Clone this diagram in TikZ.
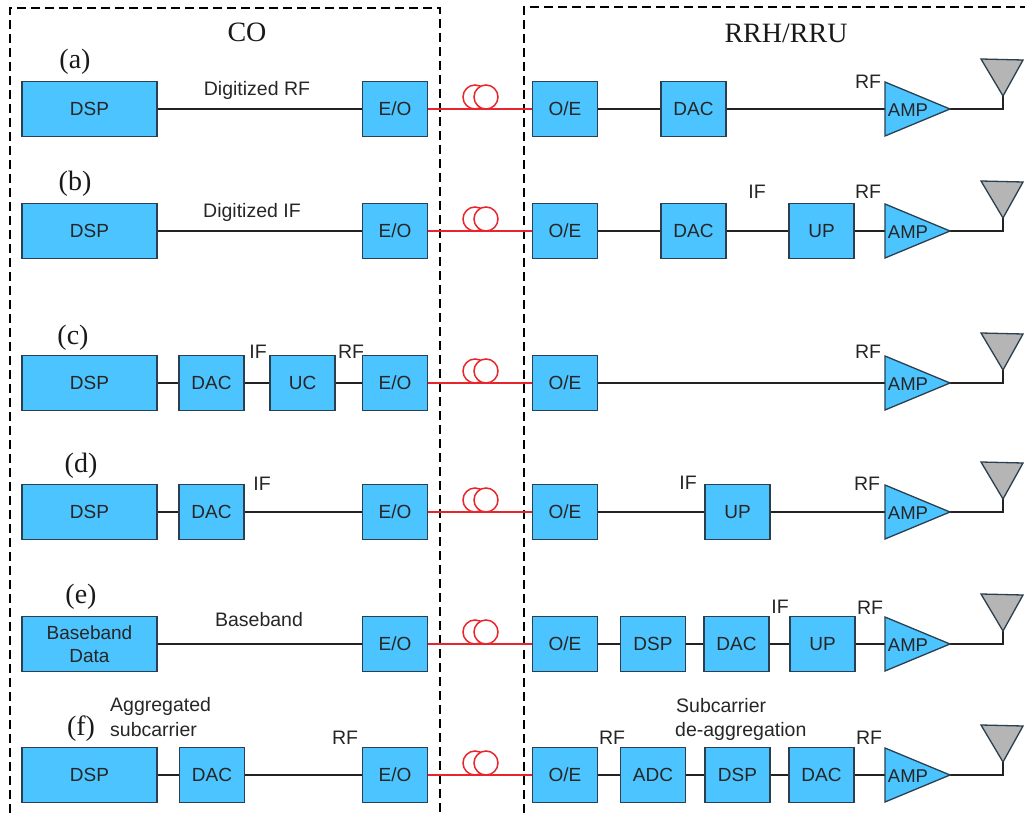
\documentclass[tikz,border=0pt]{standalone}
\usepackage{fontspec}
\setmainfont{Liberation Sans}
\newfontfamily\serifpart{Liberation Serif}
\definecolor{boxblue}{HTML}{4CC4FF}
\definecolor{linedark}{HTML}{222222}
\definecolor{boxedge}{HTML}{2A3F4F}
\definecolor{fibred}{HTML}{E8252B}
\definecolor{antgray}{HTML}{B5B5B5}
\tikzset{
  block/.style={draw=boxedge,fill=boxblue,line width=1.3pt,minimum height=55pt,inner sep=0pt,text=black!85,font=\fontsize{19}{22}\selectfont,align=center},
  wideblock/.style={block,minimum width=135pt},
  smallblock/.style={block,minimum width=65pt},
  wire/.style={draw=linedark,line width=1.6pt},
  fibre/.style={draw=fibred,line width=1.5pt},
  frame/.style={draw=black,line width=1.6pt,dash pattern=on 9pt off 5pt},
  lbl/.style={inner sep=0pt,font=\fontsize{19.5}{22}\selectfont,text=black!85},
  amplbl/.style={inner sep=0pt,font=\fontsize{18.5}{21}\selectfont,text=black!85},
  lettering/.style={inner sep=0pt,font=\fontsize{28}{31}\selectfont\serifpart,text=black!90},
  triangleamp/.style={draw=boxedge,fill=boxblue,line width=1.3pt,line join=miter},
  antenna/.style={draw=boxedge,fill=antgray,line width=1.3pt,line join=miter}
}
% #1 row name, #2 centre y, #3 last box name before the amplifier
\newcommand{\rowparts}[3]{%
  \node[smallblock] (#1eo) at (395,#2) {E/O};
  \node[smallblock] (#1oe) at (565,#2) {O/E};
  \draw[fibre] (#1eo) -- (#1oe);
  \coordinate (#1ca) at (475,#2-12);
  \coordinate (#1cb) at (486,#2-12);
  \draw[fibre] (#1ca) circle[radius=12];
  \draw[fibre,fill=white] (#1cb) circle[radius=12];
  \draw[fibre] (#1eo) -- (#1oe);
  \coordinate (#1ampw) at (885,#2);
  \coordinate (#1ampt) at (885,#2-27);
  \coordinate (#1ampb) at (885,#2+27);
  \coordinate (#1ampe) at (950,#2);
  \coordinate (#1antl) at (981,#2-50);
  \coordinate (#1antr) at (1023,#2-49);
  \coordinate (#1antb) at (1003,#2-13);
  \coordinate (#1antf) at (1003,#2);
  \draw[wire] (#1ampe) -- (#1antf) -- (#1antb);
  \draw[antenna] (#1antl) -- (#1antr) -- (#1antb) -- cycle;
  \draw[wire] (#3) -- (#1ampw);
  \draw[triangleamp] (#1ampt) -- (#1ampe) -- (#1ampb) -- cycle;
  \node[amplbl] (#1amplbl) at (908,#2+1) {AMP};
}
\begin{document}
\begin{tikzpicture}[x=1pt,y=-1pt]
\useasboundingbox (0,0) rectangle (1025,813);
% frames
\coordinate (cobl) at (10,813);
\coordinate (cotl) at (10,8);
\coordinate (cotr) at (440,8);
\coordinate (cobr) at (440,813);
\coordinate (rrbl) at (524,813);
\coordinate (rrtl) at (524,7);
\coordinate (rrtr) at (1025,7);
\draw[frame] (cobl) -- (cotl) -- (cotr) -- (cobr);
\draw[frame] (rrbl) -- (rrtl) -- (rrtr);
\node[lettering] (colbl) at (247,32) {CO};
\node[lettering] (rrlbl) at (786,33) {RRH/RRU};

% row a
\node[wideblock] (adsp) at (89.5,109) {DSP};
\node[smallblock] (adac) at (693.5,109) {DAC};
\rowparts{a}{109}{adac}
\draw[wire] (adsp) -- (aeo);
\draw[wire] (aoe) -- (adac);
\node[lettering] (alet) at (75,62) {(a)};
\node[lbl] (alab) at (257,90) {Digitized RF};
\node[lbl] (arf) at (868,82) {RF};

% row b
\node[wideblock] (bdsp) at (89.5,231) {DSP};
\node[smallblock] (bdac) at (693.5,231) {DAC};
\node[smallblock] (bup) at (821.5,231) {UP};
\rowparts{b}{231}{bup}
\draw[wire] (bdsp) -- (beo);
\draw[wire] (boe) -- (bdac);
\draw[wire] (bdac) -- (bup);
\node[lettering] (blet) at (75,184) {(b)};
\node[lbl] (blab) at (252,212) {Digitized IF};
\node[lbl] (bif) at (757,192) {IF};
\node[lbl] (brf) at (868,192) {RF};

% row c
\node[wideblock] (cdsp) at (89.5,383) {DSP};
\node[smallblock] (cdac) at (211.5,383) {DAC};
\node[smallblock] (cuc) at (302.5,383) {UC};
\rowparts{c}{383}{coe}
\draw[wire] (cdsp) -- (cdac);
\draw[wire] (cdac) -- (cuc);
\draw[wire] (cuc) -- (ceo);
\node[lettering] (clet) at (73,338) {(c)};
\node[lbl] (cif) at (258,352) {IF};
\node[lbl] (crfa) at (351,352) {RF};
\node[lbl] (crfb) at (868,352) {RF};

% row d
\node[wideblock] (ddsp) at (89.5,512) {DSP};
\node[smallblock] (ddac) at (211.5,512) {DAC};
\node[smallblock] (dup) at (737.5,512) {UP};
\rowparts{d}{512}{dup}
\draw[wire] (ddsp) -- (ddac);
\draw[wire] (ddac) -- (deo);
\draw[wire] (doe) -- (dup);
\node[lettering] (dlet) at (81,466) {(d)};
\node[lbl] (difa) at (262,484) {IF};
\node[lbl] (difb) at (688,483) {IF};
\node[lbl] (drf) at (867,484) {RF};

% row e
\node[wideblock] (edata) at (89.5,644) {Baseband\\[1pt]Data};
\node[smallblock] (edsp) at (653,644) {DSP};
\node[smallblock] (edac) at (736.5,644) {DAC};
\node[smallblock] (eup) at (822.5,644) {UP};
\rowparts{e}{644}{eup}
\draw[wire] (edata) -- (eeo);
\draw[wire] (eoe) -- (edsp);
\draw[wire] (edsp) -- (edac);
\draw[wire] (edac) -- (eup);
\node[lettering] (elet) at (81,597) {(e)};
\node[lbl] (elab) at (259,620) {Baseband};
\node[lbl] (eif) at (780,607) {IF};
\node[lbl] (erf) at (870,608) {RF};

% row f
\node[wideblock] (fdsp) at (89.5,775) {DSP};
\node[smallblock] (fdaca) at (212,775) {DAC};
\node[smallblock] (fadc) at (653,775) {ADC};
\node[smallblock] (fdsq) at (737.5,775) {DSP};
\node[smallblock] (fdacb) at (821.5,775) {DAC};
\rowparts{f}{775}{fdacb}
\draw[wire] (fdsp) -- (fdaca);
\draw[wire] (fdaca) -- (feo);
\draw[wire] (foe) -- (fadc);
\draw[wire] (fadc) -- (fdsq);
\draw[wire] (fdsq) -- (fdacb);
\node[lettering] (flet) at (81,729) {(f)};
\node[lbl,anchor=west] (flaba) at (110,706) {Aggregated};
\node[lbl,anchor=west] (flabb) at (110,730) {subcarrier};
\node[lbl,anchor=west] (flabc) at (676,706) {Subcarrier};
\node[lbl,anchor=west] (flabd) at (675,731) {de-aggregation};
\node[lbl] (frfa) at (345,738) {RF};
\node[lbl] (frfb) at (612,738) {RF};
\node[lbl] (frfc) at (869,738) {RF};
\end{tikzpicture}
\end{document}
